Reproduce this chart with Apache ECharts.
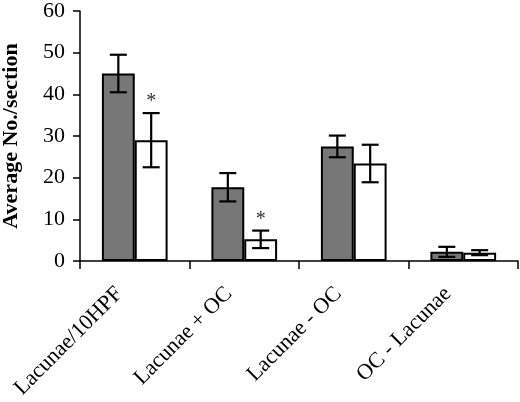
<!DOCTYPE html>
<html>
<head>
<meta charset="utf-8">
<script src="https://cdn.jsdelivr.net/npm/echarts@6/dist/echarts.min.js"></script>
<style>
html,body{margin:0;padding:0;background:#fff;}
#chart{width:520px;height:402px;}
</style>
</head>
<body>
<div id="chart"></div>
<script>
const categories = ['Lacunae/10HPF', 'Lacunae + OC', 'Lacunae - OC', 'OC - Lacunae'];
const darkValues = [45.0, 17.7, 27.5, 2.2];
const darkErrors = [4.5, 3.4, 2.6, 1.2];
const whiteValues = [29.0, 5.2, 23.4, 2.0];
const whiteErrors = [6.5, 2.1, 4.5, 0.6];
const whiteMarks = ['*', '*', '', ''];
const yTicks = { min: 0, max: 60, interval: 10 };
const yAxisName = 'Average No./section';

const FONT = '"Liberation Serif", "Times New Roman", serif';
const CAT_GAP = 0.4;

function errorRender(sideSign) {
  return function (params, api) {
    const i = api.value(0);
    const v = api.value(1);
    const e = api.value(2);
    const mark = api.value(3);
    const catW = api.size([1, 0])[0];
    const barW = catW * (1 - CAT_GAP) / 2;
    const center = api.coord([i, v]);
    const x = center[0] + sideSign * barW / 2;
    const yTop = api.coord([i, v + e])[1];
    const yBot = api.coord([i, Math.max(0, v - e)])[1];
    const cap = 8.5;
    const style = { stroke: '#000', lineWidth: 2.2 };
    const children = [
      { type: 'line', shape: { x1: x, y1: yTop, x2: x, y2: yBot }, style: style },
      { type: 'line', shape: { x1: x - cap, y1: yTop, x2: x + cap, y2: yTop }, style: style },
      { type: 'line', shape: { x1: x - cap, y1: yBot, x2: x + cap, y2: yBot }, style: style }
    ];
    if (mark) {
      children.push({
        type: 'text',
        style: { x: x, y: yTop - 11, text: mark, fill: '#333', font: '20px ' + FONT, align: 'center', verticalAlign: 'middle' }
      });
    }
    return { type: 'group', children: children };
  };
}

const chart = echarts.init(document.getElementById('chart'));
chart.setOption({
  animation: false,
  backgroundColor: '#fff',
  grid: { left: 80, right: 2, top: 11, bottom: 141, containLabel: false, outerBoundsMode: 'none' },
  xAxis: {
    type: 'category',
    data: categories,
    axisLine: { lineStyle: { color: '#000', width: 1.5 } },
    axisTick: { show: true, alignWithLabel: false, length: 8, lineStyle: { color: '#000', width: 1.5 } },
    axisLabel: {
      interval: 0, rotate: 45, color: '#000', fontFamily: FONT, fontSize: 22,
      margin: 14, padding: [0, 22, 0, 0]
    }
  },
  yAxis: {
    type: 'value',
    min: yTicks.min, max: yTicks.max, interval: yTicks.interval,
    name: yAxisName,
    nameLocation: 'middle',
    nameGap: 58,
    nameTextStyle: { color: '#000', fontFamily: FONT, fontSize: 22, fontWeight: 'bold' },
    axisLine: { show: true, lineStyle: { color: '#000', width: 1.5 } },
    axisTick: { show: true, length: 7, lineStyle: { color: '#000', width: 1.5 } },
    axisLabel: { color: '#000', fontFamily: FONT, fontSize: 22, margin: 15 },
    splitLine: { show: false }
  },
  series: [
    {
      type: 'bar', data: darkValues, barGap: '0%', barCategoryGap: (CAT_GAP * 100) + '%',
      itemStyle: { color: '#777777', borderColor: '#000', borderWidth: 2 }, z: 2
    },
    {
      type: 'bar', data: whiteValues, barGap: '0%', barCategoryGap: (CAT_GAP * 100) + '%',
      itemStyle: { color: '#ffffff', borderColor: '#000', borderWidth: 2 }, z: 2
    },
    {
      type: 'custom', z: 5,
      renderItem: errorRender(-1),
      data: darkValues.map((v, i) => [i, v, darkErrors[i], ''])
    },
    {
      type: 'custom', z: 5,
      renderItem: errorRender(1),
      data: whiteValues.map((v, i) => [i, v, whiteErrors[i], whiteMarks[i]])
    }
  ]
});
</script>
</body>
</html>
